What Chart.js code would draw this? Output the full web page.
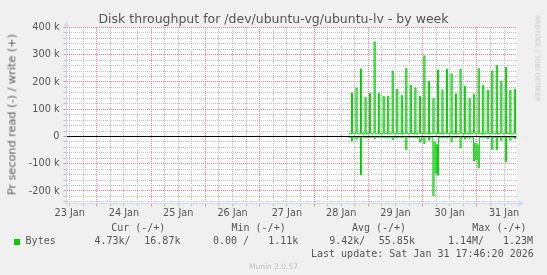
<!DOCTYPE html>
<html><head><meta charset="utf-8">
<script src="https://cdn.jsdelivr.net/npm/chart.js@4"></script>
<style>
html,body{margin:0;padding:0;background:#F0F0F0;}
#wrap{position:relative;width:547px;height:275px;overflow:hidden;background:#F0F0F0;}
canvas{position:absolute;left:0;top:0;}
.t{position:absolute;white-space:pre;line-height:1;}
.sans{font-family:'DejaVu Sans',sans-serif;}
.mono{font-family:'DejaVu Sans Mono',monospace;font-size:10px;color:#555;}
</style></head><body>
<div id="wrap">
<canvas id="c" width="547" height="275"></canvas>
<div class="t sans" style="left:0;width:547px;text-align:center;top:13.4px;font-size:12.5px;color:#555;">Disk throughput for /dev/ubuntu-vg/ubuntu-lv - by week</div>
<div class="t sans" style="left:-88.4px;width:200px;text-align:center;top:108.6px;height:11.25px;font-size:11.25px;color:#606060;transform:rotate(-90deg);">Pr second read (-) / write (+)</div>
<div class="t sans" style="left:436.8px;width:200px;text-align:center;top:55.35px;height:6.7px;font-size:6.7px;color:#c4c4c4;transform:rotate(90deg);">RRDTOOL / TOBI OETIKER</div>
<div class="t mono" style="left:111.2px;top:223.3px;">Cur (-/+)</div>
<div class="t mono" style="left:231.5px;top:223.3px;">Min (-/+)</div>
<div class="t mono" style="left:351.9px;top:223.3px;">Avg (-/+)</div>
<div class="t mono" style="left:472.3px;top:223.3px;">Max (-/+)</div>
<div style="position:absolute;left:14px;top:239px;width:6px;height:6px;background:#00CC00;"></div>
<div class="t mono" style="left:25.6px;top:236.3px;">Bytes</div>
<div class="t mono" style="left:94.4px;top:236.3px;">4.73k/</div>
<div class="t mono" style="left:144.3px;top:236.3px;">16.87k</div>
<div class="t mono" style="left:213px;top:236.3px;">0.00 /</div>
<div class="t mono" style="left:268.2px;top:236.3px;">1.11k</div>
<div class="t mono" style="left:329.2px;top:236.3px;">9.42k/</div>
<div class="t mono" style="left:378.8px;top:236.3px;">55.85k</div>
<div class="t mono" style="left:447.9px;top:236.3px;">1.14M/</div>
<div class="t mono" style="left:503px;top:236.3px;">1.23M</div>
<div class="t mono" style="left:311px;top:249px;">Last update: Sat Jan 31 17:46:20 2026</div>
<div class="t sans" style="left:0;width:547px;text-align:center;top:262.6px;font-size:7.5px;color:#bbb;">Munin 2.0.57</div>
</div>
<script>
// ---- data (hours counted from 23 Jan 00:00) ----
const dayLabels = ['23 Jan','24 Jan','25 Jan','26 Jan','27 Jan','28 Jan','29 Jan','30 Jan','31 Jan'];
const yMajorValues = [-200,-100,0,100,200,300,400];
const yMajorLabels = ['-200 k','-100 k','0','100 k','200 k','300 k','400 k'];
const xMinHour = 10.6, xMaxHour = 209.5;
const yMinK = -245.9, yMaxK = 400;
const firstSampleHour = 135.3, sampleStepHours = 0.5;
// write bytes/s (k), 30-min samples
const writeK = [
  9,10,11,
  160,10,9,12, 178,11,9,10, 248,12,8,10, 143,9,11,10, 158,10,9,13,
  347,11,10,9, 158,12,9,10, 147,10,11,9, 148,9,10,12, 240,11,9,10,
  173,10,12,9, 151,9,10,11, 250,12,9,10, 188,10,11,9, 178,9,10,12,
  148,11,9,10, 296,10,12,9, 202,9,10,11, 140,12,9,10, 244,10,11,9,
  170,9,10,12, 247,11,9,10, 229,10,12,9, 156,9,10,11, 247,12,9,10,
  184,10,11,9, 140,9,10,12, 155,11,9,10, 250,10,12,9, 188,9,10,11,
  170,12,9,10, 240,10,11,9, 261,9,10,12, 203,11,9,10, 254,10,12,9,
  170,9,10,11, 173,12,10
];
// read bytes/s (k), plotted below zero
const readK = [
  2,3,2,
  16,3,2,3, 11,2,3,2, 140,3,2,2, 5,2,3,2, 3,2,2,3,
  8,2,3,2, 3,2,2,3, 3,2,3,2, 5,3,2,2, 11,2,3,2,
  5,2,2,3, 5,3,2,2, 48,2,3,2, 3,2,2,3, 4,2,3,2,
  20,15,3,2, 26,3,2,2, 13,2,3,2, 218,20,135,30, 142,3,2,2,
  5,2,3,2, 5,3,2,2, 20,2,3,2, 4,2,2,3, 42,3,2,2,
  9,2,3,2, 6,2,2,3, 90,25,86,30, 115,3,2,2, 5,2,3,2,
  8,3,2,2, 48,2,3,2, 48,3,2,2, 15,2,3,2, 93,3,2,2,
  14,2,3,2, 8,2,3
];

const writePts = writeK.map((v,i)=>({x:firstSampleHour+i*sampleStepHours, y:v}));
const readPts = readK.map((v,i)=>({x:firstSampleHour+i*sampleStepHours, y:-v}));
const zeroPts = [{x:xMinHour,y:0},{x:xMaxHour,y:0}];

const GRID_MINOR = '#c2c2c2', GRID_MAJOR = '#eb8c8c', AXIS = '#CFD6F8';
const isMajorX = v => v % 24 === 0;
const isMajorY = v => v % 100 === 0;

const munin = {
  id:'munin',
  beforeDraw(chart){
    const {ctx, chartArea:a} = chart;
    ctx.save(); ctx.fillStyle='#ffffff';
    ctx.fillRect(a.left, a.top, a.right-a.left, a.bottom-a.top);
    ctx.restore();
  },
  beforeDatasetsDraw(chart){
    const {ctx, chartArea:a, scales} = chart;
    const L = Math.floor(a.left)+1, R = Math.floor(a.right), T = Math.floor(a.top), B = Math.floor(a.bottom);
    ctx.save();
    for (const pass of [false, true]) {
      ctx.fillStyle = pass ? GRID_MAJOR : GRID_MINOR;
      for (const t of scales.x.ticks) {
        if (isMajorX(t.value) !== pass) continue;
        const px = Math.floor(scales.x.getPixelForValue(t.value));
        for (let y = T; y < B; y += 2) ctx.fillRect(px, y, 1, 1);
      }
      for (const t of scales.y.ticks) {
        if (isMajorY(t.value) !== pass) continue;
        const py = Math.floor(scales.y.getPixelForValue(t.value));
        for (let x = L; x < R; x += 2) ctx.fillRect(x, py, 1, 1);
      }
    }
    ctx.restore();
  },
  afterDraw(chart){
    const {ctx, chartArea:a} = chart;
    ctx.save();
    ctx.strokeStyle = AXIS; ctx.fillStyle = AXIS; ctx.lineWidth = 1;
    ctx.beginPath();
    ctx.moveTo(a.left, a.bottom+2); ctx.lineTo(a.left, a.top-2);
    ctx.moveTo(a.left-2, a.bottom); ctx.lineTo(a.right+3, a.bottom);
    ctx.stroke();
    ctx.beginPath();
    ctx.moveTo(a.left, a.top-6); ctx.lineTo(a.left-3, a.top-1); ctx.lineTo(a.left+3, a.top-1); ctx.closePath(); ctx.fill();
    ctx.beginPath();
    ctx.moveTo(a.right+7, a.bottom); ctx.lineTo(a.right+2, a.bottom-3); ctx.lineTo(a.right+2, a.bottom+3); ctx.closePath(); ctx.fill();
    ctx.restore();
  }
};

new Chart(document.getElementById('c'), {
  type:'line',
  data:{ datasets:[
    {data:zeroPts, borderColor:'#000000', borderWidth:1, pointRadius:0, fill:false},
    {data:writePts, borderColor:'#00CC00', borderWidth:1, pointRadius:0, fill:false, stepped:'middle'},
    {data:readPts, borderColor:'#00CC00', borderWidth:1, pointRadius:0, fill:false, stepped:'middle'}
  ]},
  options:{
    responsive:false, animation:false, devicePixelRatio:1,
    layout:{padding:{left:0, right:30.5, top:27.5, bottom:0}},
    plugins:{legend:{display:false}, tooltip:{enabled:false}, title:{display:false}},
    scales:{
      x:{
        type:'linear', min:xMinHour, max:xMaxHour,
        afterFit(s){ s.height = 71.5; },
        grid:{ drawOnChartArea:false, color:c=> (c.tick && isMajorX(c.tick.value)) ? GRID_MAJOR : GRID_MINOR, tickLength:3, lineWidth:1 },
        border:{ display:false },
        ticks:{ stepSize:6, includeBounds:false, autoSkip:false, maxRotation:0, padding:1,
          color:'#555', font:{family:'DejaVu Sans', size:9.7},
          callback:v=> (v % 24 === 12) ? (dayLabels[(v-12)/24] || '') : '' }
      },
      y:{
        type:'linear', min:yMinK, max:yMaxK,
        afterFit(s){ s.width = 66.5; },
        grid:{ drawOnChartArea:false, color:c=> (c.tick && isMajorY(c.tick.value)) ? GRID_MAJOR : GRID_MINOR, tickLength:3, lineWidth:1 },
        border:{ display:false },
        ticks:{ stepSize:20, includeBounds:false, autoSkip:false, padding:4,
          color:'#555', font:{family:'DejaVu Sans', size:9.7},
          callback:v=>{ const i = yMajorValues.indexOf(v); return i>=0 ? yMajorLabels[i] : ''; } }
      }
    }
  },
  plugins:[munin]
});
</script>
</body></html>
